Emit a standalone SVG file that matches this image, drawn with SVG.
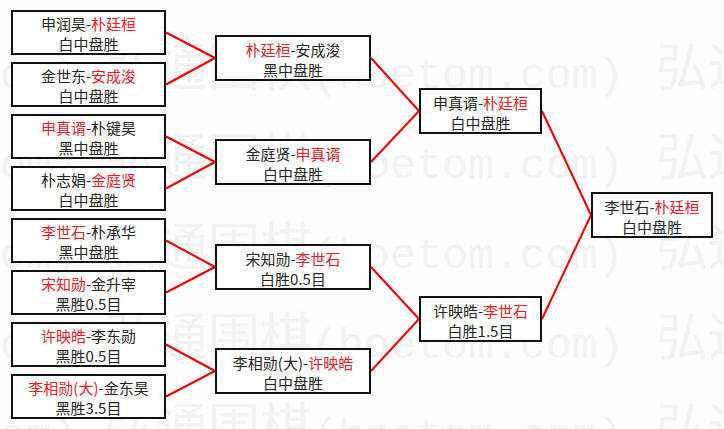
<svg xmlns="http://www.w3.org/2000/svg" xmlns:xlink="http://www.w3.org/1999/xlink" width="724" height="429" viewBox="0 0 724 429">
<style>
.bg{fill:#fdfdfd}
.wmc{font-family:"Noto Sans CJK SC",sans-serif;font-size:52px;fill:#f2f2f2}
.wml{font-family:"Liberation Mono",monospace;font-size:43.3px;fill:#f2f2f2}
.box{fill:#ffffff;stroke:#111;stroke-width:2}
.t{font-family:"Noto Sans CJK SC","Noto Sans",sans-serif;font-size:15px;fill:#262626;text-anchor:middle}
.r{fill:#ea2026}
.c{stroke:#ee0000;stroke-width:2;fill:none}
</style>
<defs>
<g id="wmrow">
<text class="wmc" x="-442" y="-2">弘通围棋</text><text class="wml" x="-234" y="0">(hoetom.com)</text>
<text class="wmc" x="104" y="-2">弘通围棋</text><text class="wml" x="312" y="0">(hoetom.com)</text>
<text class="wmc" x="656" y="-2">弘通围棋</text>
</g>
</defs>
<rect class="bg" x="0" y="0" width="724" height="429"/>
<g id="watermark">
<use xlink:href="#wmrow" transform="translate(0,88)"/>
<use xlink:href="#wmrow" transform="translate(0,178)"/>
<use xlink:href="#wmrow" transform="translate(0,268)"/>
<use xlink:href="#wmrow" transform="translate(0,358)"/>
<use xlink:href="#wmrow" transform="translate(0,448)"/>
</g>
<g id="connectors">
<line class="c" x1="166" y1="32.5" x2="215" y2="58"/>
<line class="c" x1="166" y1="84.5" x2="215" y2="58"/>
<line class="c" x1="166" y1="136.5" x2="215" y2="162"/>
<line class="c" x1="166" y1="188.5" x2="215" y2="162"/>
<line class="c" x1="166" y1="240.5" x2="215" y2="267"/>
<line class="c" x1="166" y1="292.5" x2="215" y2="267"/>
<line class="c" x1="166" y1="344.5" x2="215" y2="371"/>
<line class="c" x1="166" y1="396.5" x2="215" y2="371"/>
<line class="c" x1="371" y1="58" x2="419" y2="111"/>
<line class="c" x1="371" y1="162" x2="419" y2="111"/>
<line class="c" x1="371" y1="267" x2="419" y2="319"/>
<line class="c" x1="371" y1="371" x2="419" y2="319"/>
<line class="c" x1="542" y1="111" x2="591" y2="215"/>
<line class="c" x1="542" y1="319" x2="591" y2="215"/>
</g>
<g id="m1"><rect class="box" x="12" y="11" width="153" height="43"/>
<text class="t" x="88.5" y="30">申润昊-<tspan class="r">朴廷桓</tspan></text><text class="t" x="88.5" y="50">白中盘胜</text></g>
<g id="m2"><rect class="box" x="12" y="63" width="153" height="43"/>
<text class="t" x="88.5" y="82">金世东-<tspan class="r">安成浚</tspan></text><text class="t" x="88.5" y="102">白中盘胜</text></g>
<g id="m3"><rect class="box" x="12" y="115" width="153" height="43"/>
<text class="t" x="88.5" y="134"><tspan class="r">申真谞</tspan>-朴键昊</text><text class="t" x="88.5" y="154">黑中盘胜</text></g>
<g id="m4"><rect class="box" x="12" y="167" width="153" height="43"/>
<text class="t" x="88.5" y="186">朴志娟-<tspan class="r">金庭贤</tspan></text><text class="t" x="88.5" y="206">白中盘胜</text></g>
<g id="m5"><rect class="box" x="12" y="219" width="153" height="43"/>
<text class="t" x="88.5" y="238"><tspan class="r">李世石</tspan>-朴承华</text><text class="t" x="88.5" y="258">黑中盘胜</text></g>
<g id="m6"><rect class="box" x="12" y="271" width="153" height="43"/>
<text class="t" x="88.5" y="290"><tspan class="r">宋知勋</tspan>-金升宰</text><text class="t" x="88.5" y="310">黑胜0.5目</text></g>
<g id="m7"><rect class="box" x="12" y="323" width="153" height="43"/>
<text class="t" x="88.5" y="342"><tspan class="r">许映皓</tspan>-李东勋</text><text class="t" x="88.5" y="362">黑胜0.5目</text></g>
<g id="m8"><rect class="box" x="12" y="375" width="153" height="43"/>
<text class="t" x="88.5" y="394"><tspan class="r">李相勋(大)</tspan>-金东昊</text><text class="t" x="88.5" y="414">黑胜3.5目</text></g>
<g id="q1"><rect class="box" x="216" y="36" width="154" height="44"/>
<text class="t" x="293" y="56"><tspan class="r">朴廷桓</tspan>-安成浚</text><text class="t" x="293" y="76">黑中盘胜</text></g>
<g id="q2"><rect class="box" x="216" y="140" width="154" height="44"/>
<text class="t" x="293" y="160">金庭贤-<tspan class="r">申真谞</tspan></text><text class="t" x="293" y="180">白中盘胜</text></g>
<g id="q3"><rect class="box" x="216" y="245" width="154" height="44"/>
<text class="t" x="293" y="265">宋知勋-<tspan class="r">李世石</tspan></text><text class="t" x="293" y="285">白胜0.5目</text></g>
<g id="q4"><rect class="box" x="216" y="349" width="154" height="44"/>
<text class="t" x="293" y="369">李相勋(大)-<tspan class="r">许映皓</tspan></text><text class="t" x="293" y="389">白中盘胜</text></g>
<g id="s1"><rect class="box" x="420" y="89" width="121" height="44"/>
<text class="t" x="480.5" y="109">申真谞-<tspan class="r">朴廷桓</tspan></text><text class="t" x="480.5" y="129">白中盘胜</text></g>
<g id="s2"><rect class="box" x="420" y="297" width="121" height="44"/>
<text class="t" x="480.5" y="317">许映皓-<tspan class="r">李世石</tspan></text><text class="t" x="480.5" y="337">白胜1.5目</text></g>
<g id="final"><rect class="box" x="592" y="193" width="120" height="44"/>
<text class="t" x="652" y="213">李世石-<tspan class="r">朴廷桓</tspan></text><text class="t" x="652" y="233">白中盘胜</text></g>
</svg>
